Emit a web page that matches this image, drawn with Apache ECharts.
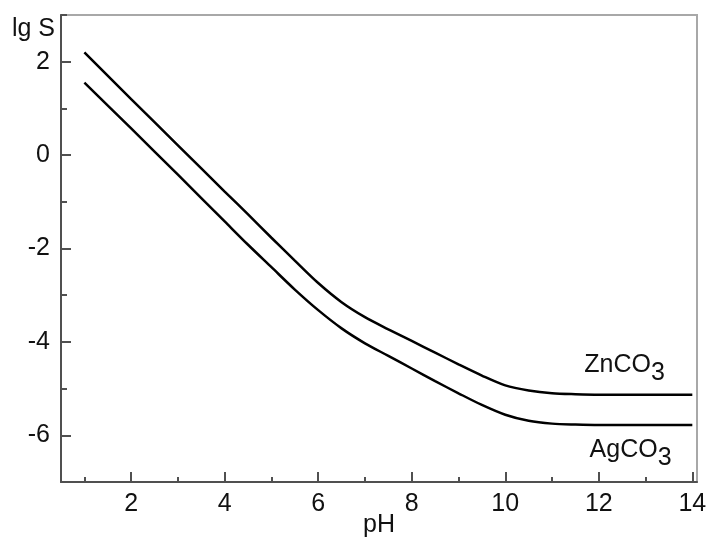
<!DOCTYPE html>
<html>
<head>
<meta charset="utf-8">
<script src="https://cdn.jsdelivr.net/npm/echarts@6/dist/echarts.min.js"></script>
<style>
html,body{margin:0;padding:0;background:#fff;}
#chart{width:710px;height:541px;}
</style>
</head>
<body>
<div id="chart"></div>
<script>
var pH = [1, 2, 3, 4, 4.5, 5, 5.5, 6, 6.5, 7, 7.5, 8, 8.5, 9, 9.5, 10, 10.5, 11, 11.5, 12, 13, 14];
var znCO3 = [2.2, 1.2, 0.21, -0.78, -1.27, -1.77, -2.26, -2.74, -3.15, -3.47, -3.73, -3.98, -4.23, -4.48, -4.72, -4.93, -5.04, -5.1, -5.12, -5.13, -5.13, -5.13];
var agCO3 = [1.55, 0.57, -0.42, -1.42, -1.92, -2.40, -2.88, -3.32, -3.71, -4.03, -4.30, -4.57, -4.84, -5.10, -5.35, -5.56, -5.69, -5.75, -5.77, -5.78, -5.78, -5.78];
var xMajorTicks = [2, 4, 6, 8, 10, 12, 14];
var xMinorTicks = [1, 3, 5, 7, 9, 11, 13];
var yMajorTicks = [-6, -4, -2, 0, 2];
var yMinorTicks = [-7, -5, -3, -1, 1, 3];
var seriesNames = ['ZnCO', 'AgCO'];
var subscript = '3';
var xName = 'pH';
var yName = 'lg S';

function pairs(xs, ys) { return xs.map(function (x, i) { return [x, ys[i]]; }); }

var FONT = "'Liberation Sans', Arial, sans-serif";
var FS = 25;
var darkAxis = '#505050';

function xAxisCfg(major) {
  return {
    type: 'value', min: 0.5, max: 14.1, position: 'bottom',
    name: major ? xName : '', nameLocation: 'middle', nameGap: 31, nameMoveOverlap: false,
    nameTextStyle: { fontFamily: FONT, fontSize: FS, color: '#111' },
    axisLine: { show: major, onZero: false, lineStyle: { color: darkAxis, width: 2 } },
    axisTick: { show: true, inside: true, length: major ? 10 : 5, customValues: major ? xMajorTicks : xMinorTicks, lineStyle: { color: darkAxis, width: 2 } },
    axisLabel: { show: major, customValues: xMajorTicks, margin: 10, fontFamily: FONT, fontSize: FS, color: '#111' },
    splitLine: { show: false }
  };
}
function yAxisCfg(major) {
  return {
    type: 'value', min: -7, max: 3, position: 'left',
    name: major ? yName : '', nameLocation: 'end', nameGap: -14, nameMoveOverlap: false,
    nameTextStyle: { fontFamily: FONT, fontSize: FS, color: '#111', align: 'right', verticalAlign: 'middle', padding: [0, 6, 0, 0] },
    axisLine: { show: major, onZero: false, lineStyle: { color: darkAxis, width: 2 } },
    axisTick: { show: true, inside: true, length: major ? 10 : 6, customValues: major ? yMajorTicks : yMinorTicks, lineStyle: { color: darkAxis, width: 2 } },
    axisLabel: { show: major, customValues: yMajorTicks, margin: 11, fontFamily: FONT, fontSize: FS, color: '#111' },
    splitLine: { show: false }
  };
}

function labelRich() {
  return {
    m: { fontFamily: FONT, fontSize: FS, color: '#111' },
    s: { fontFamily: FONT, fontSize: FS, color: '#111', padding: [16, 0, 0, 0] }
  };
}

function lineSeries(name, ys, coord) {
  return {
    name: name, type: 'line', smooth: 0.3, symbol: 'none',
    xAxisIndex: 0, yAxisIndex: 0,
    data: pairs(pH, ys),
    lineStyle: { color: '#000', width: 2.5 },
    markPoint: {
      symbol: 'circle', symbolSize: 0, silent: true,
      data: [{ coord: coord, value: 0 }],
      label: {
        show: true, position: 'inside',
        formatter: '{m|' + name + '}{s|' + subscript + '}',
        rich: labelRich()
      }
    }
  };
}

var chart = echarts.init(document.getElementById('chart'), null, { renderer: 'canvas' });
chart.setOption({
  animation: false,
  backgroundColor: '#fff',
  grid: { left: 61, right: 13, top: 15, bottom: 59, containLabel: false, outerBoundsMode: 'none', show: true, borderColor: '#a8a8a8', borderWidth: 2, backgroundColor: 'transparent' },
  xAxis: [xAxisCfg(true), xAxisCfg(false)],
  yAxis: [yAxisCfg(true), yAxisCfg(false)],
  series: [
    lineSeries(seriesNames[0], znCO3, [12.55, -4.5]),
    lineSeries(seriesNames[1], agCO3, [12.68, -6.32])
  ]
});
</script>
</body>
</html>
